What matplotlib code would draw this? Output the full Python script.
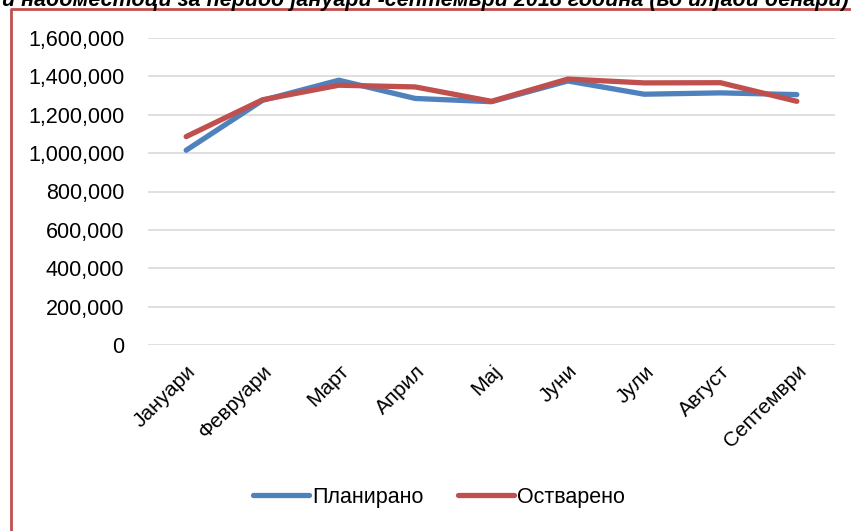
import matplotlib.pyplot as plt
from matplotlib.lines import Line2D
from matplotlib.ticker import FuncFormatter

plt.rcParams['font.family'] = ['Liberation Sans', 'DejaVu Sans']

# Data (во илјади денари)
months = ["Јануари", "Февруари", "Март", "Април", "Мај", "Јуни", "Јули", "Август", "Септември"]
planned = [1015000, 1275000, 1380000, 1285000, 1268000, 1376000, 1307000, 1314000, 1305000]
realized = [1086000, 1278000, 1354000, 1345000, 1270000, 1386000, 1366000, 1367000, 1270000]

W, H = 851, 531
fig = plt.figure(figsize=(W / 100, H / 100), dpi=100)
ax = fig.add_axes([148 / W, 1 - 345 / H, (835 - 148) / W, (345 - 38) / H])

x = range(len(months))
ax.plot(x, planned, color="#4F81BD", lw=3.8, solid_capstyle="round", label="Планирано")
ax.plot(x, realized, color="#C0504D", lw=3.8, solid_capstyle="round", label="Остварено")

ax.set_xlim(-0.5, len(months) - 0.5)
ax.set_ylim(0, 1600000)
ax.set_yticks(range(0, 1600001, 200000))
ax.yaxis.set_major_formatter(FuncFormatter(lambda v, p: f"{int(v):,}"))
ax.grid(axis="y", color="#D9D9D9", lw=1.2)
ax.set_axisbelow(True)
for s in ax.spines.values():
    s.set_visible(False)
ax.tick_params(axis="both", length=0)
ax.tick_params(axis="y", pad=17, labelsize=15.5)
ax.set_xticks(list(x))
ax.set_xticklabels(months, rotation=45, ha="right", rotation_mode="anchor")
ax.tick_params(axis="x", pad=12, labelsize=15)

fig.legend(loc="center", bbox_to_anchor=(439 / W, 1 - 497 / H), ncol=2, frameon=False,
           fontsize=15.5, handlelength=2.6, handletextpad=0.15, columnspacing=1.6)

# caption cut off at the top of the image
fig.text(0.5, 1 - 6 / H, "и надоместоци за период јануари -септември 2018 година (во илјади денари)",
         ha="center", va="baseline", fontsize=15.5, fontweight="bold", fontstyle="italic")

# chart frame (left and top edges)
fig.add_artist(Line2D([11 / W, 11 / W, 1.01], [-0.01, 1 - 9 / H, 1 - 9 / H],
                      transform=fig.transFigure, color="#C0504D", lw=2))

fig.savefig("out.png", dpi=100)
